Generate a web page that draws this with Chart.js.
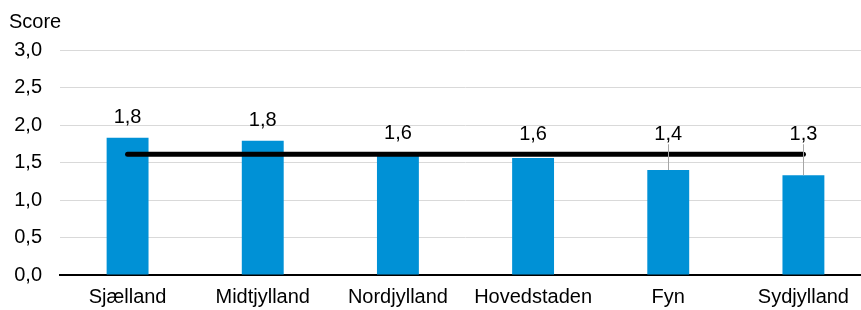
<!DOCTYPE html>
<html>
<head>
<meta charset="utf-8">
<script src="https://cdn.jsdelivr.net/npm/chart.js@4/dist/chart.umd.min.js"></script>
<style>
    html, body { margin: 0; padding: 0; background: #fff; overflow: hidden; }
    canvas { display: block; }
</style>
</head>
<body>
<canvas id="chart" width="872" height="310"></canvas>
<script>
const regions = ['Sjælland', 'Midtjylland', 'Nordjylland', 'Hovedstaden', 'Fyn', 'Sydjylland'];
const scores = [1.83, 1.79, 1.62, 1.56, 1.40, 1.33];
const average = 1.61;
const yTicks = [0, 0.5, 1, 1.5, 2, 2.5, 3];

const FONT = '"Liberation Sans", Arial, sans-serif';
const comma = v => Number(v).toFixed(1).replace('.', ',');

// data labels above the bars, with a leader line when the label sits above the average line
const barLabels = {
    id: 'barLabels',
    afterDatasetsDraw(chart) {
        const ctx = chart.ctx;
        const y = chart.scales.y;
        const lineY = y.getPixelForValue(average);
        const meta = chart.getDatasetMeta(1); // the bar dataset
        ctx.save();
        ctx.font = '20px ' + FONT;
        ctx.fillStyle = '#000';
        ctx.textAlign = 'center';
        ctx.textBaseline = 'middle';
        meta.data.forEach((bar, i) => {
            const top = bar.y;
            const ly = Math.min(top, lineY) - 20;
            if (top - lineY > 8) {
                ctx.strokeStyle = '#a6a6a6';
                ctx.lineWidth = 1;
                ctx.beginPath();
                ctx.moveTo(Math.round(bar.x) + 0.5, ly + 10);
                ctx.lineTo(Math.round(bar.x) + 0.5, top);
                ctx.stroke();
            }
            ctx.fillText(comma(scores[i]), bar.x, ly);
        });
        ctx.restore();
    }
};

new Chart(document.getElementById('chart'), {
    data: {
        labels: regions,
        datasets: [
            {
                type: 'line',
                data: regions.map(() => average),
                borderColor: '#000',
                borderWidth: 5,
                borderCapStyle: 'round',
                pointRadius: 0,
                order: 0,
            },
            {
                type: 'bar',
                data: scores,
                backgroundColor: '#0091d6',
                barPercentage: 0.31,
                categoryPercentage: 1,
                order: 1,
            },
        ],
    },
    options: {
        responsive: false,
        animation: false,
        layout: { padding: { left: 9, right: 1, top: 0, bottom: 0 } },
        scales: {
            x: {
                grid: { display: false, drawTicks: false },
                border: { color: '#000', width: 2 },
                ticks: { color: '#000', font: { family: FONT, size: 20 }, padding: 10, maxRotation: 0 },
                afterFit(scale) { scale.height = 35; },
            },
            y: {
                min: 0,
                max: 3,
                afterBuildTicks(scale) { scale.ticks = yTicks.map(v => ({ value: v })); },
                grid: { color: '#d9d9d9', lineWidth: 1, drawTicks: false },
                border: { display: false },
                ticks: {
                    color: '#000',
                    font: { family: FONT, size: 20 },
                    padding: 18,
                    callback: v => comma(v),
                },
                afterFit(scale) { scale.width = 51; },
            },
        },
        plugins: {
            legend: { display: false },
            tooltip: { enabled: false },
            title: {
                display: true,
                text: 'Score',
                align: 'start',
                color: '#000',
                font: { family: FONT, size: 20, weight: 'normal' },
                padding: { top: 10, bottom: 16 },
            },
        },
    },
    plugins: [barLabels],
});
</script>
</body>
</html>
